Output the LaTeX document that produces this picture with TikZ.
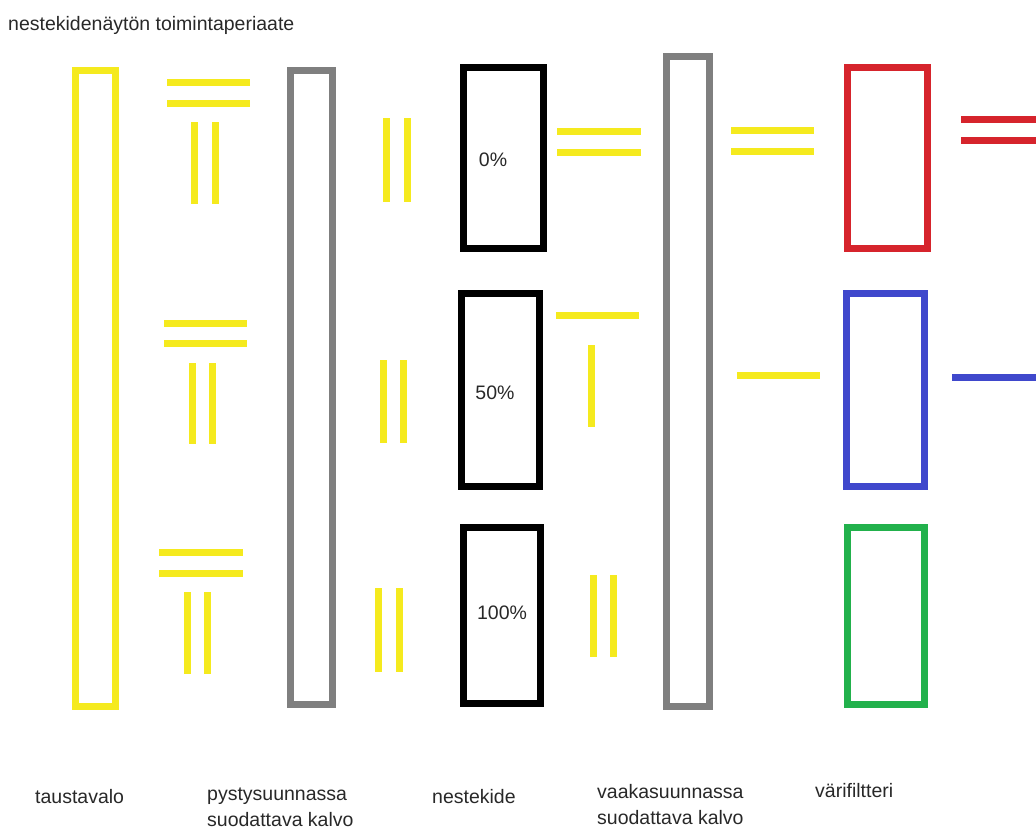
\documentclass[tikz,border=0pt]{standalone}
\usepackage{fontspec}
\setmainfont{Liberation Sans}
\definecolor{lcdyellow}{RGB}{245,234,30}
\definecolor{lcdgray}{RGB}{127,127,127}
\definecolor{lcdred}{RGB}{214,36,44}
\definecolor{lcdblue}{RGB}{63,72,204}
\definecolor{lcdgreen}{RGB}{34,177,76}
\definecolor{txt}{RGB}{40,40,40}
\tikzset{
  box/.style={draw, line width=7pt, inner sep=0pt, fill=none},
  ray/.style={line width=7pt, lcdyellow},
  lbl/.style={font=\fontsize{19.5}{26}\selectfont, text=txt, inner sep=0pt, align=left},
}
\begin{document}
\begin{tikzpicture}[x=1pt,y=-1pt]
\useasboundingbox (0,0) rectangle (1036,831);
% frames
\node[box, lcdyellow, minimum width=40pt, minimum height=636pt] (back) at (95.5,388.5) {};
\node[box, lcdgray, minimum width=42pt, minimum height=634pt] (pol1) at (311.5,387.5) {};
\node[box, black, minimum width=80pt, minimum height=181pt] (lc1) at (503.5,158) {};
\node[box, black, minimum width=78pt, minimum height=193pt] (lc2) at (500.5,390) {};
\node[box, black, minimum width=77pt, minimum height=176pt] (lc3) at (502,615.5) {};
\node[box, lcdgray, minimum width=43pt, minimum height=650pt] (pol2) at (688,381.5) {};
\node[box, lcdred, minimum width=80pt, minimum height=181pt] (fr) at (887.5,158) {};
\node[box, lcdblue, minimum width=78pt, minimum height=193pt] (fb) at (885.5,390) {};
\node[box, lcdgreen, minimum width=77pt, minimum height=177pt] (fg) at (886,616) {};
% percentages
\node[lbl] (p0) at (493,160) {0\%};
\node[lbl] (p50) at (495,393) {50\%};
\node[lbl] (p100) at (502,613) {100\%};
% row 1
\draw[ray] (167,82) -- (250,82);
\draw[ray] (167,103) -- (250,103);
\draw[ray] (194,122) -- (194,204);
\draw[ray] (215,122) -- (215,204);
\draw[ray] (386,118) -- (386,202);
\draw[ray] (407,118) -- (407,202);
\draw[ray] (557,131) -- (641,131);
\draw[ray] (557,152) -- (641,152);
\draw[ray] (731,130) -- (814,130);
\draw[ray] (731,151) -- (814,151);
\draw[ray, lcdred] (961,119) -- (1036,119);
\draw[ray, lcdred] (961,140) -- (1036,140);
% row 2
\draw[ray] (164,323) -- (247,323);
\draw[ray] (164,343) -- (247,343);
\draw[ray] (192,363) -- (192,444);
\draw[ray] (212,363) -- (212,444);
\draw[ray] (383,360) -- (383,443);
\draw[ray] (403,360) -- (403,443);
\draw[ray] (556,315) -- (639,315);
\draw[ray] (591,345) -- (591,427);
\draw[ray] (737,375) -- (820,375);
\draw[ray, lcdblue] (952,377) -- (1036,377);
% row 3
\draw[ray] (159,552) -- (243,552);
\draw[ray] (159,573) -- (243,573);
\draw[ray] (187,592) -- (187,674);
\draw[ray] (207,592) -- (207,674);
\draw[ray] (378,588) -- (378,672);
\draw[ray] (399,588) -- (399,672);
\draw[ray] (593,575) -- (593,657);
\draw[ray] (613,575) -- (613,657);
% texts
\node[lbl, anchor=base west] (title) at (8,30.5) {nestekidenäytön toimintaperiaate};
\node[lbl, anchor=base west] (t1) at (35,803) {taustavalo};
\node[lbl, anchor=base west] (t2) at (207,826) {pystysuunnassa\\suodattava kalvo};
\node[lbl, anchor=base west] (t3) at (432,803) {nestekide};
\node[lbl, anchor=base west] (t4) at (597,824) {vaakasuunnassa\\suodattava kalvo};
\node[lbl, anchor=base west] (t5) at (815,797) {värifiltteri};
\end{tikzpicture}
\end{document}
